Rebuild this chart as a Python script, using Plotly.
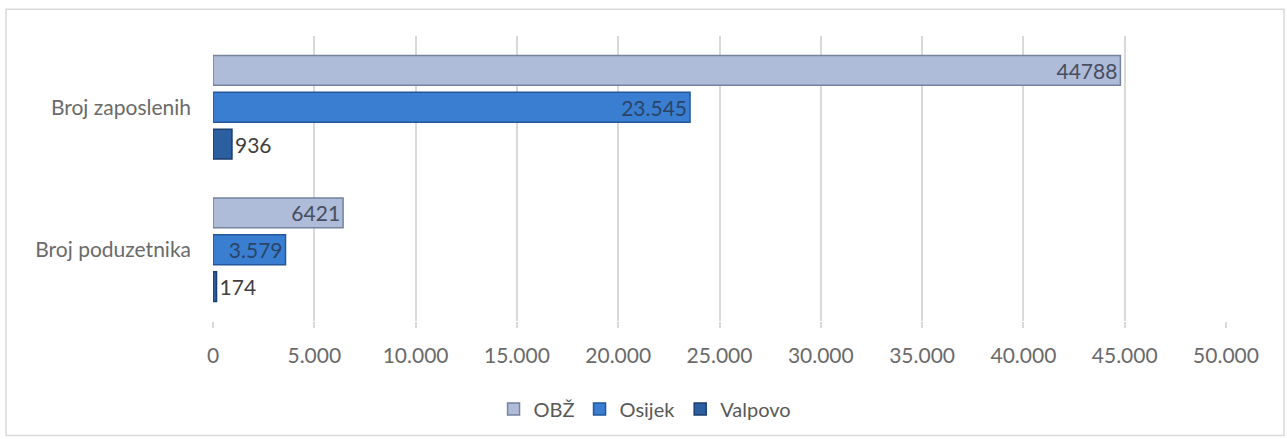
import plotly.graph_objects as go

categories = ["Broj zaposlenih", "Broj poduzetnika"]
series_names = ["OBŽ", "Osijek", "Valpovo"]
obz_values = [44788, 6421]
osijek_values = [23545, 3579]
valpovo_values = [936, 174]
obz_labels = ["44788", "6421"]
osijek_labels = ["23.545", "3.579"]
valpovo_labels = ["936", "174"]
tick_values = [0, 5000, 10000, 15000, 20000, 25000, 30000, 35000, 40000, 45000, 50000]
tick_labels = ["0", "5.000", "10.000", "15.000", "20.000", "25.000", "30.000",
               "35.000", "40.000", "45.000", "50.000"]

FONT = "Lato, 'Open Sans', sans-serif"

fig = go.Figure()
fig.add_trace(go.Bar(
    name=series_names[0], y=categories, x=obz_values, orientation="h",
    text=obz_labels, textposition="inside", insidetextanchor="end",
    constraintext="none",
    textfont=dict(family=FONT, size=21, color="#474E5E"),
    marker=dict(color="#AEBBD9", line=dict(color="#75839F", width=1.5)),
))
fig.add_trace(go.Bar(
    name=series_names[1], y=categories, x=osijek_values, orientation="h",
    text=osijek_labels, textposition="inside", insidetextanchor="end",
    constraintext="none",
    textfont=dict(family=FONT, size=21, color="#2A4468"),
    marker=dict(color="#3A7ED2", line=dict(color="#23579A", width=1.5)),
))
fig.add_trace(go.Bar(
    name=series_names[2], y=categories, x=valpovo_values, orientation="h",
    text=valpovo_labels, textposition="outside", constraintext="none",
    textfont=dict(family=FONT, size=21, color="#404040"),
    marker=dict(color="#2C5F9F", line=dict(color="#1B3E6E", width=1.5)),
    cliponaxis=False,
))

fig.update_layout(
    width=1287, height=439,
    margin=dict(l=213, r=61, t=36, b=117),
    paper_bgcolor="white", plot_bgcolor="white",
    barmode="group", bargap=0.224, bargroupgap=0.19,
    font=dict(family=FONT, size=21, color="#595959"),
    showlegend=True,
    legend=dict(orientation="h", x=0.4265, xanchor="center", y=-0.304,
                yanchor="middle", font=dict(size=20, color="#595959"),
                itemwidth=30, traceorder="normal"),
    xaxis=dict(range=[0, 50000], tickvals=tick_values, ticktext=tick_labels,
               showgrid=True, gridcolor="#D9D9D9", gridwidth=1.5,
               zeroline=False, showline=False,
               ticks="outside", ticklen=6, tickcolor="#D9D9D9", tickwidth=1.5,
               ticklabelstandoff=10,
               tickfont=dict(size=21, color="#6A6A6A")),
    yaxis=dict(autorange="reversed", showgrid=False, zeroline=False,
               showline=False, ticks="", ticklabelstandoff=21,
               tickfont=dict(size=21, color="#6A6A6A")),
    shapes=[dict(type="rect", xref="paper", yref="paper",
                 x0=-0.2043, x1=1.0573, y0=-0.402, y1=1.094,
                 line=dict(color="#D9D9D9", width=1.5), layer="below")],
)

fig.write_html("out.html", config={"displayModeBar": False},
               post_script="document.body.style.margin='0';document.body.style.overflow='hidden';")
